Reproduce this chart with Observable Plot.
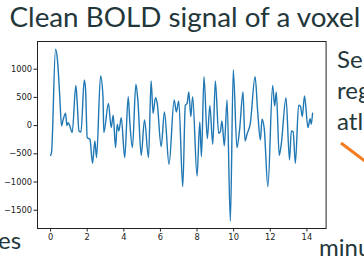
<!DOCTYPE html>
<html>
<head>
<meta charset="utf-8">
<script src="https://cdn.jsdelivr.net/npm/d3@7"></script>
<script src="https://cdn.jsdelivr.net/npm/@observablehq/plot@0.6"></script>
<style>
  html, body { margin: 0; padding: 0; background: #fff; }
  body { width: 364px; height: 260px; position: relative; overflow: hidden; }
  .txt { position: absolute; font-family: Lato, "Open Sans", sans-serif; color: #23373b; white-space: nowrap; line-height: 1; }
  #title { left: 9.5px; top: 3px; font-size: 27.8px; }
  #side { left: 337px; top: 43px; font-size: 24px; line-height: 31px; }
  #es { left: -2px; top: 228px; font-size: 24px; }
  #minu { left: 319px; top: 235px; font-size: 24px; }
  #chart { position: absolute; left: 0; top: 30px; }
  #arrow { position: absolute; left: 0; top: 0; }
</style>
</head>
<body>
<div id="title" class="txt">Clean BOLD signal of a voxel</div>
<div id="side" class="txt">Se<br>reg<br>atl</div>
<div id="es" class="txt">es</div>
<div id="minu" class="txt">minu</div>
<div id="chart"></div>
<svg id="arrow" width="364" height="260"><line x1="341" y1="143" x2="366" y2="162" stroke="#f47b20" stroke-width="3"/></svg>
<script>
const times = [0, 0.05, 0.27, 0.38, 0.49, 0.6, 0.67, 0.82, 0.89, 0.96, 1.04, 1.18, 1.38, 1.45, 1.55, 1.66, 1.84, 1.91, 2.0, 2.15, 2.29, 2.42, 2.51, 2.73, 2.86, 2.91, 3.16, 3.31, 3.42, 3.55, 3.64, 3.73, 3.86, 4.05, 4.24, 4.33, 4.47, 4.66, 4.77, 4.95, 5.13, 5.35, 5.49, 5.6, 5.73, 5.82, 6.04, 6.22, 6.47, 6.75, 6.87, 7.0, 7.22, 7.36, 7.46, 7.55, 7.66, 7.76, 8.0, 8.15, 8.24, 8.38, 8.56, 8.7, 8.86, 9.0, 9.18, 9.27, 9.36, 9.49, 9.64, 9.82, 9.98, 10.18, 10.33, 10.51, 10.62, 10.73, 10.91, 11.17, 11.31, 11.46, 11.55, 11.67, 11.87, 12.13, 12.24, 12.33, 12.49, 12.6, 12.86, 13.05, 13.15, 13.25, 13.37, 13.55, 13.65, 13.75, 13.87, 14.06, 14.18, 14.24, 14.31];
const values = [-527, -480, 1354, 1147, 585, -5, 83, 218, 0, 53, 5, -124, 714, 430, -94, -112, 810, 644, -213, -243, -668, -272, -567, 881, 526, -124, 395, -35, 183, -390, 23, -94, 142, -567, 514, 53, -390, 732, 438, -527, 101, -567, 792, 218, 496, 408, -372, 242, -686, 455, 242, 438, -1082, 360, 395, 597, 160, 514, -892, 65, -550, 869, -230, 355, -331, 792, -136, -112, 83, -360, 455, -1690, 987, -390, -53, 597, -272, -154, 41, 869, 260, -254, 112, -53, -1082, 714, 349, 597, -527, -331, 496, -608, -94, -110, -668, 360, 340, 160, 526, -35, 124, 23, 218];
const xTicks = [0, 2, 4, 6, 8, 10, 12, 14];
const yTicks = [-1500, -1000, -500, 0, 500, 1000];

const data = times.map((t, i) => ({t, v: values[i]}));

const chart = Plot.plot({
  width: 330,
  height: 225,
  marginLeft: 37,
  marginRight: 4.4,
  marginTop: 11,
  marginBottom: 27,
  style: {fontFamily: "DejaVu Sans", fontSize: "8.3px", color: "#222", background: "transparent", overflow: "visible"},
  x: {domain: [-0.715, 15.05]},
  y: {domain: [-1824, 1491]},
  marks: [
    Plot.line(data, {x: "t", y: "v", stroke: "#1f77b4", strokeWidth: 1.4, curve: "monotone-x"}),
    Plot.frame({stroke: "#222", strokeWidth: 1}),
    Plot.axisX({ticks: xTicks, tickFormat: d3.format("d"), tickSize: 3.5, tickPadding: 2, label: null, stroke: "#222"}),
    Plot.axisY({ticks: yTicks, tickFormat: d3.format("d"), tickSize: 3.5, tickPadding: 2, label: null, stroke: "#222"})
  ]
});
document.getElementById("chart").appendChild(chart);
</script>
</body>
</html>
